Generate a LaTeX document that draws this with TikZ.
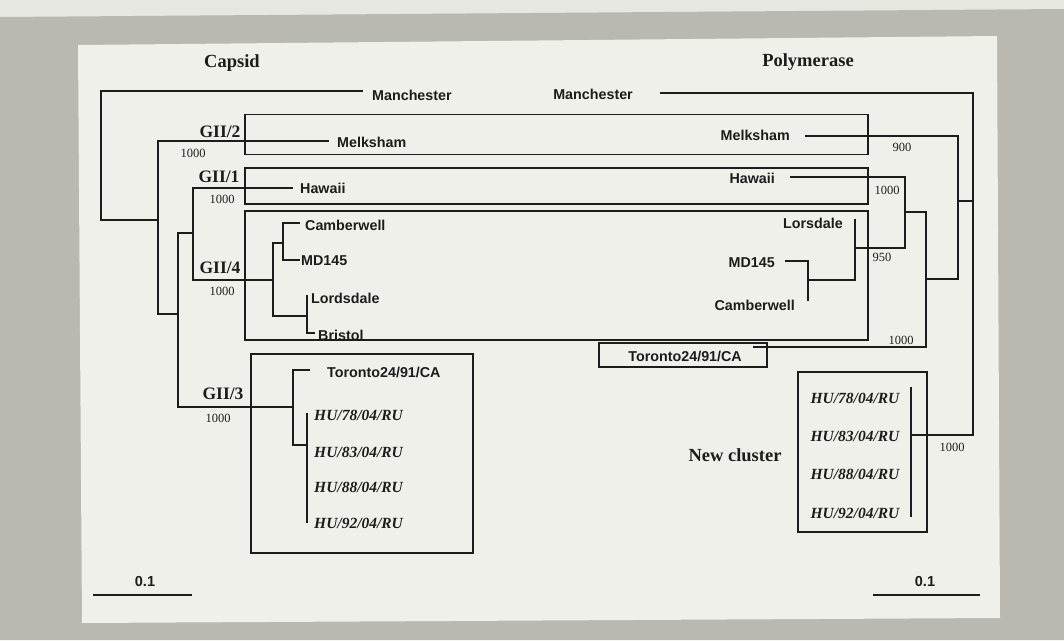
\documentclass[tikz,border=0pt]{standalone}
\usepackage{fontspec}
\setmainfont{Liberation Serif}
\setsansfont{Liberation Sans}
\definecolor{scangray}{HTML}{B9B9B2}
\definecolor{paper}{HTML}{F0F0EB}
\definecolor{topstrip}{HTML}{E7E7E2}
\definecolor{ink}{HTML}{1C1C1C}
\begin{document}
\begin{tikzpicture}[x=1pt,y=-1pt,
  tree/.style={draw=ink, line width=1.7pt},
  frame/.style={draw=ink, line width=1.5pt},
  bigframe/.style={draw=ink, line width=2.4pt},
  taxon/.style={font=\sffamily\bfseries\fontsize{14.3}{16}\selectfont, text=ink, inner sep=0pt},
  grp/.style={font=\rmfamily\bfseries\fontsize{17.5}{19}\selectfont, text=ink, inner sep=0pt},
  ttl/.style={font=\rmfamily\bfseries\fontsize{18.5}{21}\selectfont, text=ink, inner sep=0pt},
  hu/.style={font=\rmfamily\bfseries\itshape\fontsize{15.5}{17}\selectfont, text=ink, inner sep=0pt},
  boot/.style={font=\rmfamily\fontsize{12.5}{14}\selectfont, text=ink, inner sep=0pt},
  sbar/.style={font=\sffamily\bfseries\fontsize{14.5}{16}\selectfont, text=ink, inner sep=0pt}]
\useasboundingbox (0,0) rectangle (1064,640);
% scanned background
\fill[topstrip] (0,0) rectangle (1064,640);
\fill[scangray] (0,17) -- (1064,9) -- (1064,640) -- (0,640) -- cycle;
\fill[paper] (78,45) -- (997,36) -- (1000,618) -- (82,623) -- cycle;

% titles
\node[ttl] (tCapsid) at (232,63) {Capsid};
\node[ttl] (tPoly) at (808,62) {Polymerase};
\node[ttl] (tNew) at (735,455) {New cluster};

% boxes
\draw[frame] (245,114.5) rectangle (868,154.5);
\draw[frame] (245,168) rectangle (868,204);
\draw[frame] (245,211) rectangle (868,340);
\draw[frame] (599,343) rectangle (767,367);
\draw[bigframe] (251,354) rectangle (473,553);
\draw[bigframe] (798,372) rectangle (927,532);

% ---------- capsid tree ----------
\node[taxon, anchor=west] (lManT) at (372,95) {Manchester};
\node[taxon, anchor=west] (lMelkT) at (337,142) {Melksham};
\node[taxon, anchor=west] (lHawT) at (300,188) {Hawaii};
\node[taxon, anchor=west] (lCambT) at (305,225) {Camberwell};
\node[taxon, anchor=west] (lMDT) at (301,261) {MD145};
\node[taxon, anchor=west] (lLordT) at (311,298) {Lordsdale};
\node[taxon, anchor=west] (lBrisT) at (318,335) {Bristol};
\node[taxon, anchor=west] (lTorT) at (327,372) {Toronto24/91/CA};
\node[hu, anchor=west] (lHU1) at (314,415) {HU/78/04/RU};
\node[hu, anchor=west] (lHU2) at (314,452) {HU/83/04/RU};
\node[hu, anchor=west] (lHU3) at (314,487) {HU/88/04/RU};
\node[hu, anchor=west] (lHU4) at (314,523) {HU/92/04/RU};

\coordinate (cRoot) at (101,155);
\coordinate (c158) at (158,220);
\coordinate (c178) at (178,314);
\coordinate (c193) at (193,233);
\coordinate (c273) at (273,280);
\coordinate (c283) at (283,243);
\coordinate (c307) at (307,316);
\coordinate (c293) at (293,407);
\coordinate (cHU) at (307,445);
\coordinate (eManL) at (363,91);
\coordinate (eMelkL) at (329,141);
\coordinate (eHawL) at (293,188);
\coordinate (eCambL) at (300,223);
\coordinate (eMDL) at (300,260);
\coordinate (eLordL) at (307,295);
\coordinate (eBrisL) at (315,333);
\coordinate (eTorL) at (310,370);
\coordinate (eHUtL) at (307,413);
\coordinate (eHUbL) at (307,523);

\draw[tree] (cRoot) |- (eManL);
\draw[tree] (cRoot) |- (c158);
\draw[tree] (c158) |- (eMelkL);
\draw[tree] (c158) |- (c178);
\draw[tree] (c178) |- (c193);
\draw[tree] (c178) |- (c293);
\draw[tree] (c193) |- (eHawL);
\draw[tree] (c193) |- (c273);
\draw[tree] (c273) |- (c283);
\draw[tree] (c273) |- (c307);
\draw[tree] (c283) |- (eCambL);
\draw[tree] (c283) |- (eMDL);
\draw[tree] (c307) |- (eLordL);
\draw[tree] (c307) |- (eBrisL);
\draw[tree] (c293) |- (eTorL);
\draw[tree] (c293) |- (cHU);
\draw[tree] (eHUtL) -- (eHUbL);

\node[grp] (gII2) at (220,132) {GII/2};
\node[grp] (gII1) at (219,177) {GII/1};
\node[grp] (gII4) at (220,268) {GII/4};
\node[grp] (gII3) at (223,394) {GII/3};
\node[boot] (bL2) at (193,153) {1000};
\node[boot] (bL1) at (222,199) {1000};
\node[boot] (bL4) at (222,291) {1000};
\node[boot] (bL3) at (218,418) {1000};

% ---------- polymerase tree ----------
\node[taxon, anchor=east] (rManT) at (633,94) {Manchester};
\node[taxon, anchor=east] (rMelkT) at (790,135) {Melksham};
\node[taxon, anchor=east] (rHawT) at (775,178) {Hawaii};
\node[taxon, anchor=east] (rLorsT) at (843,223) {Lorsdale};
\node[taxon, anchor=east] (rMDT) at (775,263) {MD145};
\node[taxon, anchor=east] (rCambT) at (795,305) {Camberwell};
\node[taxon, anchor=east] (rTorT) at (742,356) {Toronto24/91/CA};
\node[hu] (rHU1) at (855,398) {HU/78/04/RU};
\node[hu] (rHU2) at (855,436) {HU/83/04/RU};
\node[hu] (rHU3) at (855,474) {HU/88/04/RU};
\node[hu] (rHU4) at (855,513) {HU/92/04/RU};

\coordinate (pRoot) at (973,200);
\coordinate (p958) at (958,201);
\coordinate (p926) at (926,279);
\coordinate (p905) at (905,212);
\coordinate (p855) at (855,248);
\coordinate (p808) at (808,280);
\coordinate (pHU) at (911,435);
\coordinate (eManR) at (660,93);
\coordinate (eMelkR) at (805,136);
\coordinate (eHawR) at (790,177);
\coordinate (eLorsR) at (855,219);
\coordinate (eMDR) at (785,261);
\coordinate (eCambR) at (808,301);
\coordinate (eTorR) at (753,347);
\coordinate (eHUtR) at (911,387);
\coordinate (eHUbR) at (911,517);

\draw[tree] (pRoot) |- (eManR);
\draw[tree] (pRoot) |- (p958);
\draw[tree] (pRoot) |- (pHU);
\draw[tree] (p958) |- (eMelkR);
\draw[tree] (p958) |- (p926);
\draw[tree] (p926) |- (p905);
\draw[tree] (p926) |- (eTorR);
\draw[tree] (p905) |- (eHawR);
\draw[tree] (p905) |- (p855);
\draw[tree] (p855) |- (eLorsR);
\draw[tree] (p855) |- (p808);
\draw[tree] (p808) |- (eMDR);
\draw[tree] (p808) |- (eCambR);
\draw[tree] (eHUtR) -- (eHUbR);

\node[boot] (bR900) at (902,147) {900};
\node[boot] (bR1000a) at (887,190) {1000};
\node[boot] (bR950) at (882,257) {950};
\node[boot] (bR1000b) at (901,340) {1000};
\node[boot] (bR1000c) at (952,447) {1000};

% ---------- scale bars ----------
\coordinate (sL1) at (93,595);
\coordinate (sL2) at (192,595);
\coordinate (sR1) at (873,595);
\coordinate (sR2) at (980,595);
\draw[tree] (sL1) -- (sL2);
\draw[tree] (sR1) -- (sR2);
\node[sbar] (sLt) at (145,581) {0.1};
\node[sbar] (sRt) at (925,581) {0.1};
\end{tikzpicture}
\end{document}
